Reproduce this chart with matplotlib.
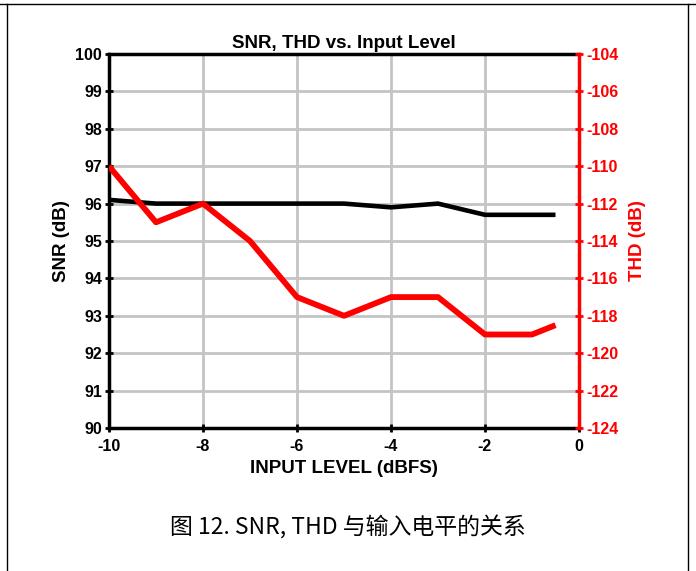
import matplotlib
matplotlib.use("Agg")
import matplotlib.pyplot as plt
from matplotlib.lines import Line2D

# data
snr_level = [-10, -9, -8, -7, -6, -5, -4, -3, -2, -1, -0.5]
snr_db = [96.1, 96.0, 96.0, 96.0, 96.0, 96.0, 95.9, 96.0, 95.7, 95.7, 95.7]

thd_level = [-10, -9, -8, -7, -6, -5, -4, -3, -2, -1, -0.5]
thd_db = [-110, -113, -112, -114, -117, -118, -117, -117, -119, -119, -118.5]

x_ticks = [-10, -8, -6, -4, -2, 0]
snr_ticks = list(range(90, 101))
thd_ticks = list(range(-124, -103, 2))

plt.rcParams['font.family'] = ['Liberation Sans', 'DejaVu Sans']
plt.rcParams['axes.unicode_minus'] = False

fig = plt.figure(figsize=(6.96, 5.71), dpi=100)
ax = fig.add_axes([109 / 696, 1 - 428 / 571, (579 - 109) / 696, (428 - 54) / 571])

ax.plot(snr_level, snr_db, color="black", lw=3.3, solid_capstyle="butt", zorder=3)
ax.set_xlim(-10, 0)
ax.set_ylim(90, 100)
ax.set_xticks(x_ticks)
ax.set_yticks(snr_ticks)
ax.grid(True, color="#c4c4c4", lw=2)
ax.tick_params(direction="inout", length=6, width=2, labelsize=11.5, pad=2)
ax.tick_params(axis="x", pad=5)
for lab in ax.get_xticklabels() + ax.get_yticklabels():
    lab.set_fontweight("bold")
for s in ["left", "bottom", "top"]:
    ax.spines[s].set_linewidth(2.5)
ax.spines["right"].set_visible(False)
ax.set_xlabel("INPUT LEVEL (dBFS)", fontsize=13.5, fontweight="bold", labelpad=4)
ax.set_ylabel("SNR (dB)", fontsize=13.5, fontweight="bold", labelpad=4)
ax.set_title("SNR, THD vs. Input Level", fontsize=13.5, fontweight="bold", pad=4)

ax2 = ax.twinx()
ax2.plot(thd_level, thd_db, color="#ff0000", lw=4.2, solid_capstyle="butt", zorder=3)
ax2.set_ylim(-124, -104)
ax2.set_yticks(thd_ticks)
ax2.tick_params(axis="y", direction="inout", length=6, width=2, colors="#ff0000",
                labelsize=11.5, pad=2)
for lab in ax2.get_yticklabels():
    lab.set_fontweight("bold")
for s in ["left", "bottom", "top"]:
    ax2.spines[s].set_visible(False)
ax2.spines["right"].set_color("#ff0000")
ax2.spines["right"].set_linewidth(2.5)
ax2.set_ylabel("THD (dB)", fontsize=13.5, fontweight="bold", color="#ff0000", labelpad=8)

# caption and page frame
fig.text(0.5, 1 - 528 / 571, "图 12. SNR, THD 与输入电平的关系", ha="center", va="center",
         fontsize=16.5, family=["Noto Sans CJK SC", "DejaVu Sans"])
fig.add_artist(Line2D([7 / 696, 7 / 696], [0, 1 - 4 / 571], color="black", lw=1))
fig.add_artist(Line2D([688 / 696, 688 / 696], [0, 1 - 4 / 571], color="black", lw=1))
fig.add_artist(Line2D([0, 1], [1 - 4 / 571, 1 - 4 / 571], color="black", lw=1))

fig.savefig("out.png", dpi=100)
